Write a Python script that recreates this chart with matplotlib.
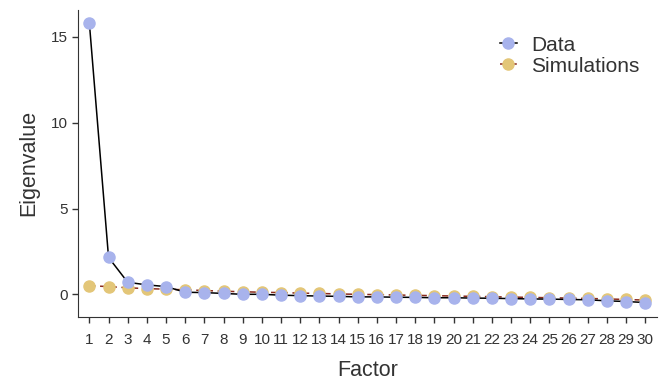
import matplotlib.pyplot as plt

factors = list(range(1, 31))
data_eigen = [15.8, 2.15, 0.7, 0.55, 0.45, 0.12, 0.1, 0.05, 0.0, 0.0,
              -0.05, -0.08, -0.1, -0.12, -0.15, -0.15, -0.17, -0.18, -0.2, -0.2,
              -0.22, -0.23, -0.25, -0.27, -0.28, -0.3, -0.32, -0.38, -0.42, -0.48]
sim_eigen = [0.5, 0.45, 0.38, 0.33, 0.3, 0.26, 0.22, 0.18, 0.15, 0.12,
             0.1, 0.07, 0.05, 0.02, 0.0, -0.02, -0.04, -0.06, -0.08, -0.1,
             -0.12, -0.14, -0.16, -0.18, -0.2, -0.22, -0.24, -0.27, -0.3, -0.34]

plt.rcParams['font.family'] = ['Liberation Sans', 'DejaVu Sans']

fig = plt.figure(figsize=(6.6, 3.81), dpi=100)
ax = fig.add_axes([0.118, 0.169, 0.877, 0.806])

ax.plot(factors, sim_eigen, color="#8B2B1F", linestyle=(0, (4, 3)), linewidth=1.1,
        marker="o", markersize=8, markerfacecolor="#E3C678", markeredgecolor="#E3C678",
        label="Simulations", zorder=2)
ax.plot(factors, data_eigen, color="black", linewidth=1.1,
        marker="o", markersize=8, markerfacecolor="#A8B3EC", markeredgecolor="#A8B3EC",
        label="Data", zorder=3)

ax.set_xlim(0.4, 30.6)
ax.set_ylim(-1.3, 16.6)
ax.set_xticks(factors)
ax.set_xticklabels([str(f) for f in factors])
ax.set_yticks([0, 5, 10, 15])
ax.tick_params(labelsize=11, color="#333333", labelcolor="#333333", length=4, width=1)
ax.tick_params(axis="x", pad=8)
for s in ["top", "right"]:
    ax.spines[s].set_visible(False)
for s in ["left", "bottom"]:
    ax.spines[s].set_color("#333333")
ax.set_xlabel("Factor", fontsize=15.5, color="#333333", labelpad=9)
ax.set_ylabel("Eigenvalue", fontsize=15.5, color="#333333", labelpad=8)

handles, labels = ax.get_legend_handles_labels()
ax.legend(handles[::-1], labels[::-1], loc="upper left", bbox_to_anchor=(0.729, 0.915),
          borderaxespad=0, borderpad=0, frameon=False, fontsize=15, labelcolor="#333333",
          handlelength=0.8, handletextpad=0.7, labelspacing=0.1)

fig.savefig("out.png", dpi=100)
